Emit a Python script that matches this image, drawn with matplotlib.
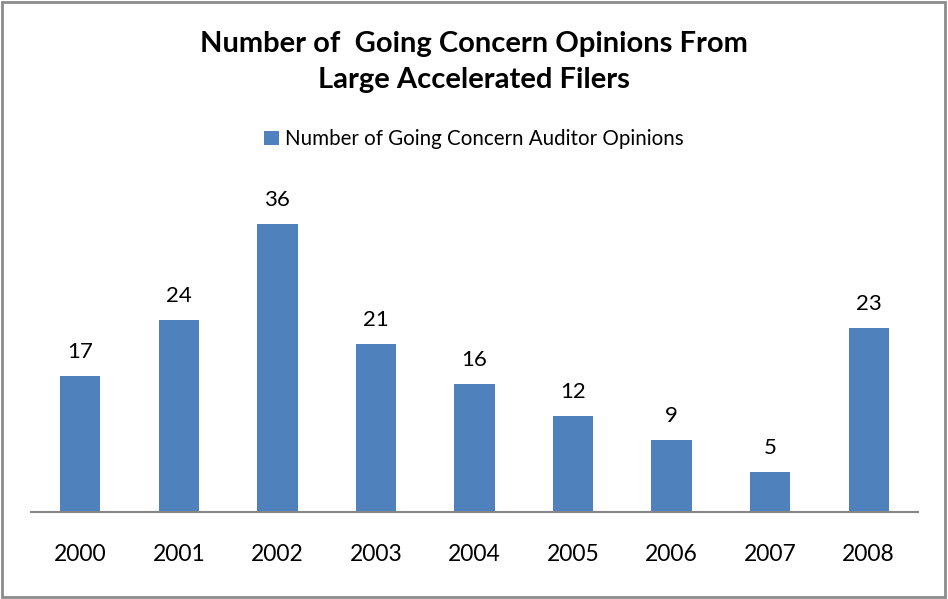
import matplotlib.pyplot as plt
from matplotlib.patches import Rectangle

# chart data
years = ['2000', '2001', '2002', '2003', '2004', '2005', '2006', '2007', '2008']
opinions = [17, 24, 36, 21, 16, 12, 9, 5, 23]
series_name = 'Number of Going Concern Auditor Opinions'
title = 'Number of  Going Concern Opinions From\nLarge Accelerated Filers'

plt.rcParams['font.family'] = ['Lato', 'DejaVu Sans']

fig = plt.figure(figsize=(9.48, 5.99), dpi=100)
# outer chart border
fig.patches.append(Rectangle((0.002, 0.003), 0.995, 0.994, transform=fig.transFigure,
                             fill=False, edgecolor='#8c8c8c', linewidth=2))

ax = fig.add_axes([31 / 948, 1 - 512 / 599, 887 / 948, 320 / 599])
x = range(len(years))
bars = ax.bar(x, opinions, width=0.41, color='#4F81BD', label=series_name)
ax.set_xlim(-0.5, len(years) - 0.5)
ax.set_ylim(0, 40)

# value labels above bars
for xi, v in zip(x, opinions):
    ax.text(xi, v + 1.7, str(v), ha='center', va='bottom', fontsize=16)

ax.set_xticks(list(x))
ax.set_xticklabels(years, fontsize=16.5)
ax.tick_params(axis='x', length=0, pad=23)
ax.set_yticks([])
for s in ['top', 'left', 'right']:
    ax.spines[s].set_visible(False)
ax.spines['bottom'].set_color('#868686')
ax.spines['bottom'].set_linewidth(1.5)

fig.text(0.5, 1 - 62 / 599, title, ha='center', va='center', fontsize=21,
         fontweight='bold', linespacing=1.5)

fig.legend(loc='center', bbox_to_anchor=(0.5, 1 - 139 / 599), frameon=False,
           fontsize=14.8, handlelength=0.7, handleheight=0.7, handletextpad=0.3)

fig.savefig('out.png', dpi=100)
